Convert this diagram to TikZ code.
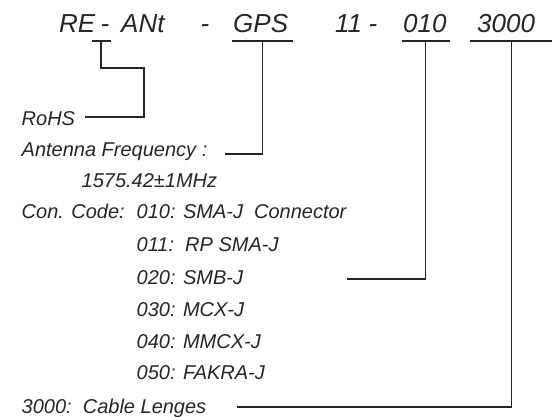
\documentclass[tikz,border=0pt]{standalone}
\usepackage{fontspec}
\setmainfont{Liberation Sans}
\begin{document}
\begin{tikzpicture}[x=1pt,y=-1pt,
  ink/.style={black!85},
  titletxt/.style={ink,inner sep=0pt,anchor=base west,font=\fontsize{26}{30}\selectfont\itshape},
  titledash/.style={ink,inner sep=0pt,anchor=base,font=\fontsize{26}{30}\selectfont\itshape},
  bodytxt/.style={ink,inner sep=0pt,anchor=base west,font=\fontsize{20}{24}\selectfont\itshape},
  uline/.style={ink,line width=1.6pt},
  conn/.style={ink,line width=1.6pt}]
\useasboundingbox (0,0) rectangle (557,417);
% title
\node[titletxt] (tRE) at (59,33) {RE};
\node[titledash] (tD1) at (105,33) {-};
\node[titletxt] (tANt) at (121,33) {ANt};
\node[titledash] (tD2) at (205,33) {-};
\node[titletxt] (tGPS) at (233,33) {GPS};
\node[titletxt] (t11) at (335,33) {11};
\node[titledash] (tD3) at (373,33) {-};
\node[titletxt] (t010) at (403,33) {010};
\node[titletxt] (t3000) at (477,33) {3000};
% underlines
\draw[uline] (92,41) -- (111,41);
\draw[uline] (232,41) -- (293,41);
\draw[uline] (401.5,41) -- (449.5,41);
\draw[uline] (470,41) -- (552,41);
\coordinate (uRE) at (101,41);
\coordinate (uGPS) at (262.5,41);
\coordinate (u010) at (425.5,41);
\coordinate (u3000) at (511.5,41);
% labels
\node[bodytxt] (rohs) at (21.5,126) {RoHS};
\node[bodytxt] (freq) at (21.5,157) {Antenna Frequency :};
\node[bodytxt] (fval) at (81.5,187) {1575.42±1MHz};
\node[bodytxt] (con) at (21.5,218) {Con. Code:};
\node[bodytxt] (c010) at (136.5,218) {010: SMA-J\ \ Connector};
\node[bodytxt] (c011) at (136.5,251) {011:\ \ RP SMA-J};
\node[bodytxt] (c020) at (136.5,284) {020: SMB-J};
\node[bodytxt] (c030) at (136.5,316) {030: MCX-J};
\node[bodytxt] (c040) at (136.5,348) {040: MMCX-J};
\node[bodytxt] (c050) at (136.5,379) {050: FAKRA-J};
\node[bodytxt] (cab) at (21.5,413) {3000:\ \ Cable Lenges};
% connector ends
\coordinate (eRoHS) at (85,117);
\coordinate (eFreq) at (225,154);
\coordinate (e020) at (347,279);
\coordinate (e3000) at (237,407);
% connectors
\draw[conn] (uRE) -- (101,68) -- (144,68) -- (144,117) -- (eRoHS);
\draw[conn] (uGPS) |- (eFreq);
\draw[conn] (u010) |- (e020);
\draw[conn] (u3000) |- (e3000);
\end{tikzpicture}
\end{document}
